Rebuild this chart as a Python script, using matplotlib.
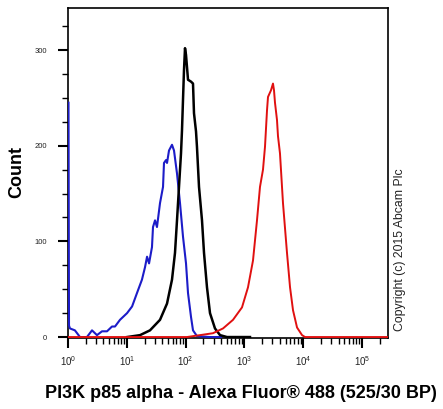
import numpy as np
import matplotlib
matplotlib.use("Agg")
import matplotlib.pyplot as plt
from matplotlib.ticker import FixedLocator, NullFormatter

plt.rcParams['font.family'] = ['Liberation Sans', 'DejaVu Sans']
plt.rcParams['mathtext.default'] = 'regular'

# ---- data (fluorescence intensity, count) ----
blue_x = [1.02, 1.04, 1.08, 1.31, 1.60, 2.10, 2.56, 3.11, 3.79, 4.61, 5.60, 6.30, 7.66,
          10.1, 12.3, 14.9, 18.1, 20.4, 22.1, 23.9, 26.8, 27.9, 30.2, 32.6, 36.7,
          41.3, 42.9, 46.4, 48.3, 52.2, 58.7, 63.5, 71.4, 80.3, 90.3, 101.6, 109.9,
          123.6, 133.6, 156, 260, 400]
blue_y = [245, 12, 9, 7, 0, 0, 7, 2, 6, 6, 11, 11, 18,
          25, 32, 46, 60, 73, 84, 77, 94, 115, 122, 115, 140,
          157, 182, 185, 182, 195, 201, 195, 171, 140, 105, 77, 46,
          21, 7, 1, 0, 0]

black_x = [10.1, 16.8, 24.8, 36.7, 48.3, 58.7, 66.0, 71.4, 77.2, 83.5, 86.8, 90.3,
           93.9, 97.7, 101.6, 109.9, 123.6, 133.6, 138.9, 150.3, 156, 169, 190,
           205.6, 231, 260, 316, 385, 506, 1245]
black_y = [0, 2, 7, 18, 35, 60, 88, 122, 157, 192, 216, 248,
           279, 302, 295, 269, 267, 265, 234, 215, 199, 157, 122,
           88, 52, 25, 9, 2, 0, 0]

red_x = [1.0, 105.6, 176, 292, 433, 640, 910, 1151, 1400, 1637, 1841, 2071, 2240,
         2423, 2519, 2832, 3063, 3186, 3312, 3582, 3725, 4028, 4531, 5300, 5970,
         6710, 7850, 9550, 10740, 280000]
red_y = [0, 0, 2, 4, 9, 18, 31, 52, 80, 122, 157, 175, 199,
         237, 251, 258, 265, 258, 245, 227, 210, 192, 140, 88, 52,
         28, 10, 2, 0, 0]

y_major = [0, 100, 200, 300]
x_major = [1, 10, 100, 1000, 10000, 100000]
x_labels = ['$10^{0}$', '$10^{1}$', '$10^{2}$', '$10^{3}$', '$10^{4}$', '$10^{5}$']

W, H = 443, 409
fig = plt.figure(figsize=(W / 100, H / 100), dpi=100)
ax = fig.add_axes([68 / W, 71 / H, 320 / W, 330 / H])

ax.plot(blue_x, blue_y, color='#1c1cc8', lw=1.5, solid_joinstyle='round', zorder=3)
ax.plot(black_x, black_y, color='black', lw=1.8, solid_joinstyle='round', zorder=3)
ax.plot(red_x, red_y, color='#e01010', lw=1.4, solid_joinstyle='round', zorder=3)

ax.set_xscale('log')
ax.set_xlim(1, 10 ** 5.442)
ax.set_ylim(-1, 344)

for s in ax.spines.values():
    s.set_linewidth(1.2)
    s.set_color('black')
    s.set_zorder(2)

ax.xaxis.set_major_locator(FixedLocator(x_major))
ax.set_xticklabels(x_labels, fontsize=7, color='#222222')
minors = [m * 10 ** d for d in range(0, 6) for m in range(2, 10) if m * 10 ** d < 10 ** 5.442]
ax.xaxis.set_minor_locator(FixedLocator(minors))
ax.xaxis.set_minor_formatter(NullFormatter())

ax.yaxis.set_major_locator(FixedLocator(y_major))
ax.set_yticklabels([str(v) for v in y_major], fontsize=5.5, color='#222222')
ax.yaxis.set_minor_locator(FixedLocator([25, 50, 75, 125, 150, 175, 225, 250, 275, 325]))

ax.tick_params(axis='both', which='major', direction='out', length=7, width=1.5, color='black')
ax.tick_params(axis='both', which='minor', direction='out', length=4, width=1.0, color='black')
ax.tick_params(axis='x', which='major', pad=5)
ax.tick_params(axis='y', which='major', pad=8)

fig.text(241 / W, 1 - 393 / H, 'PI3K p85 alpha - Alexa Fluor® 488 (525/30 BP)',
         ha='center', va='center', fontsize=13, fontweight='bold')
fig.text(17 / W, 1 - 172 / H, 'Count', rotation=90, ha='center', va='center',
         fontsize=13, fontweight='bold')
fig.text(400 / W, 1 - 250 / H, 'Copyright (c) 2015 Abcam Plc', rotation=90,
         ha='center', va='center', fontsize=8.8, color='#222222')

fig.savefig('out.png', dpi=100)
